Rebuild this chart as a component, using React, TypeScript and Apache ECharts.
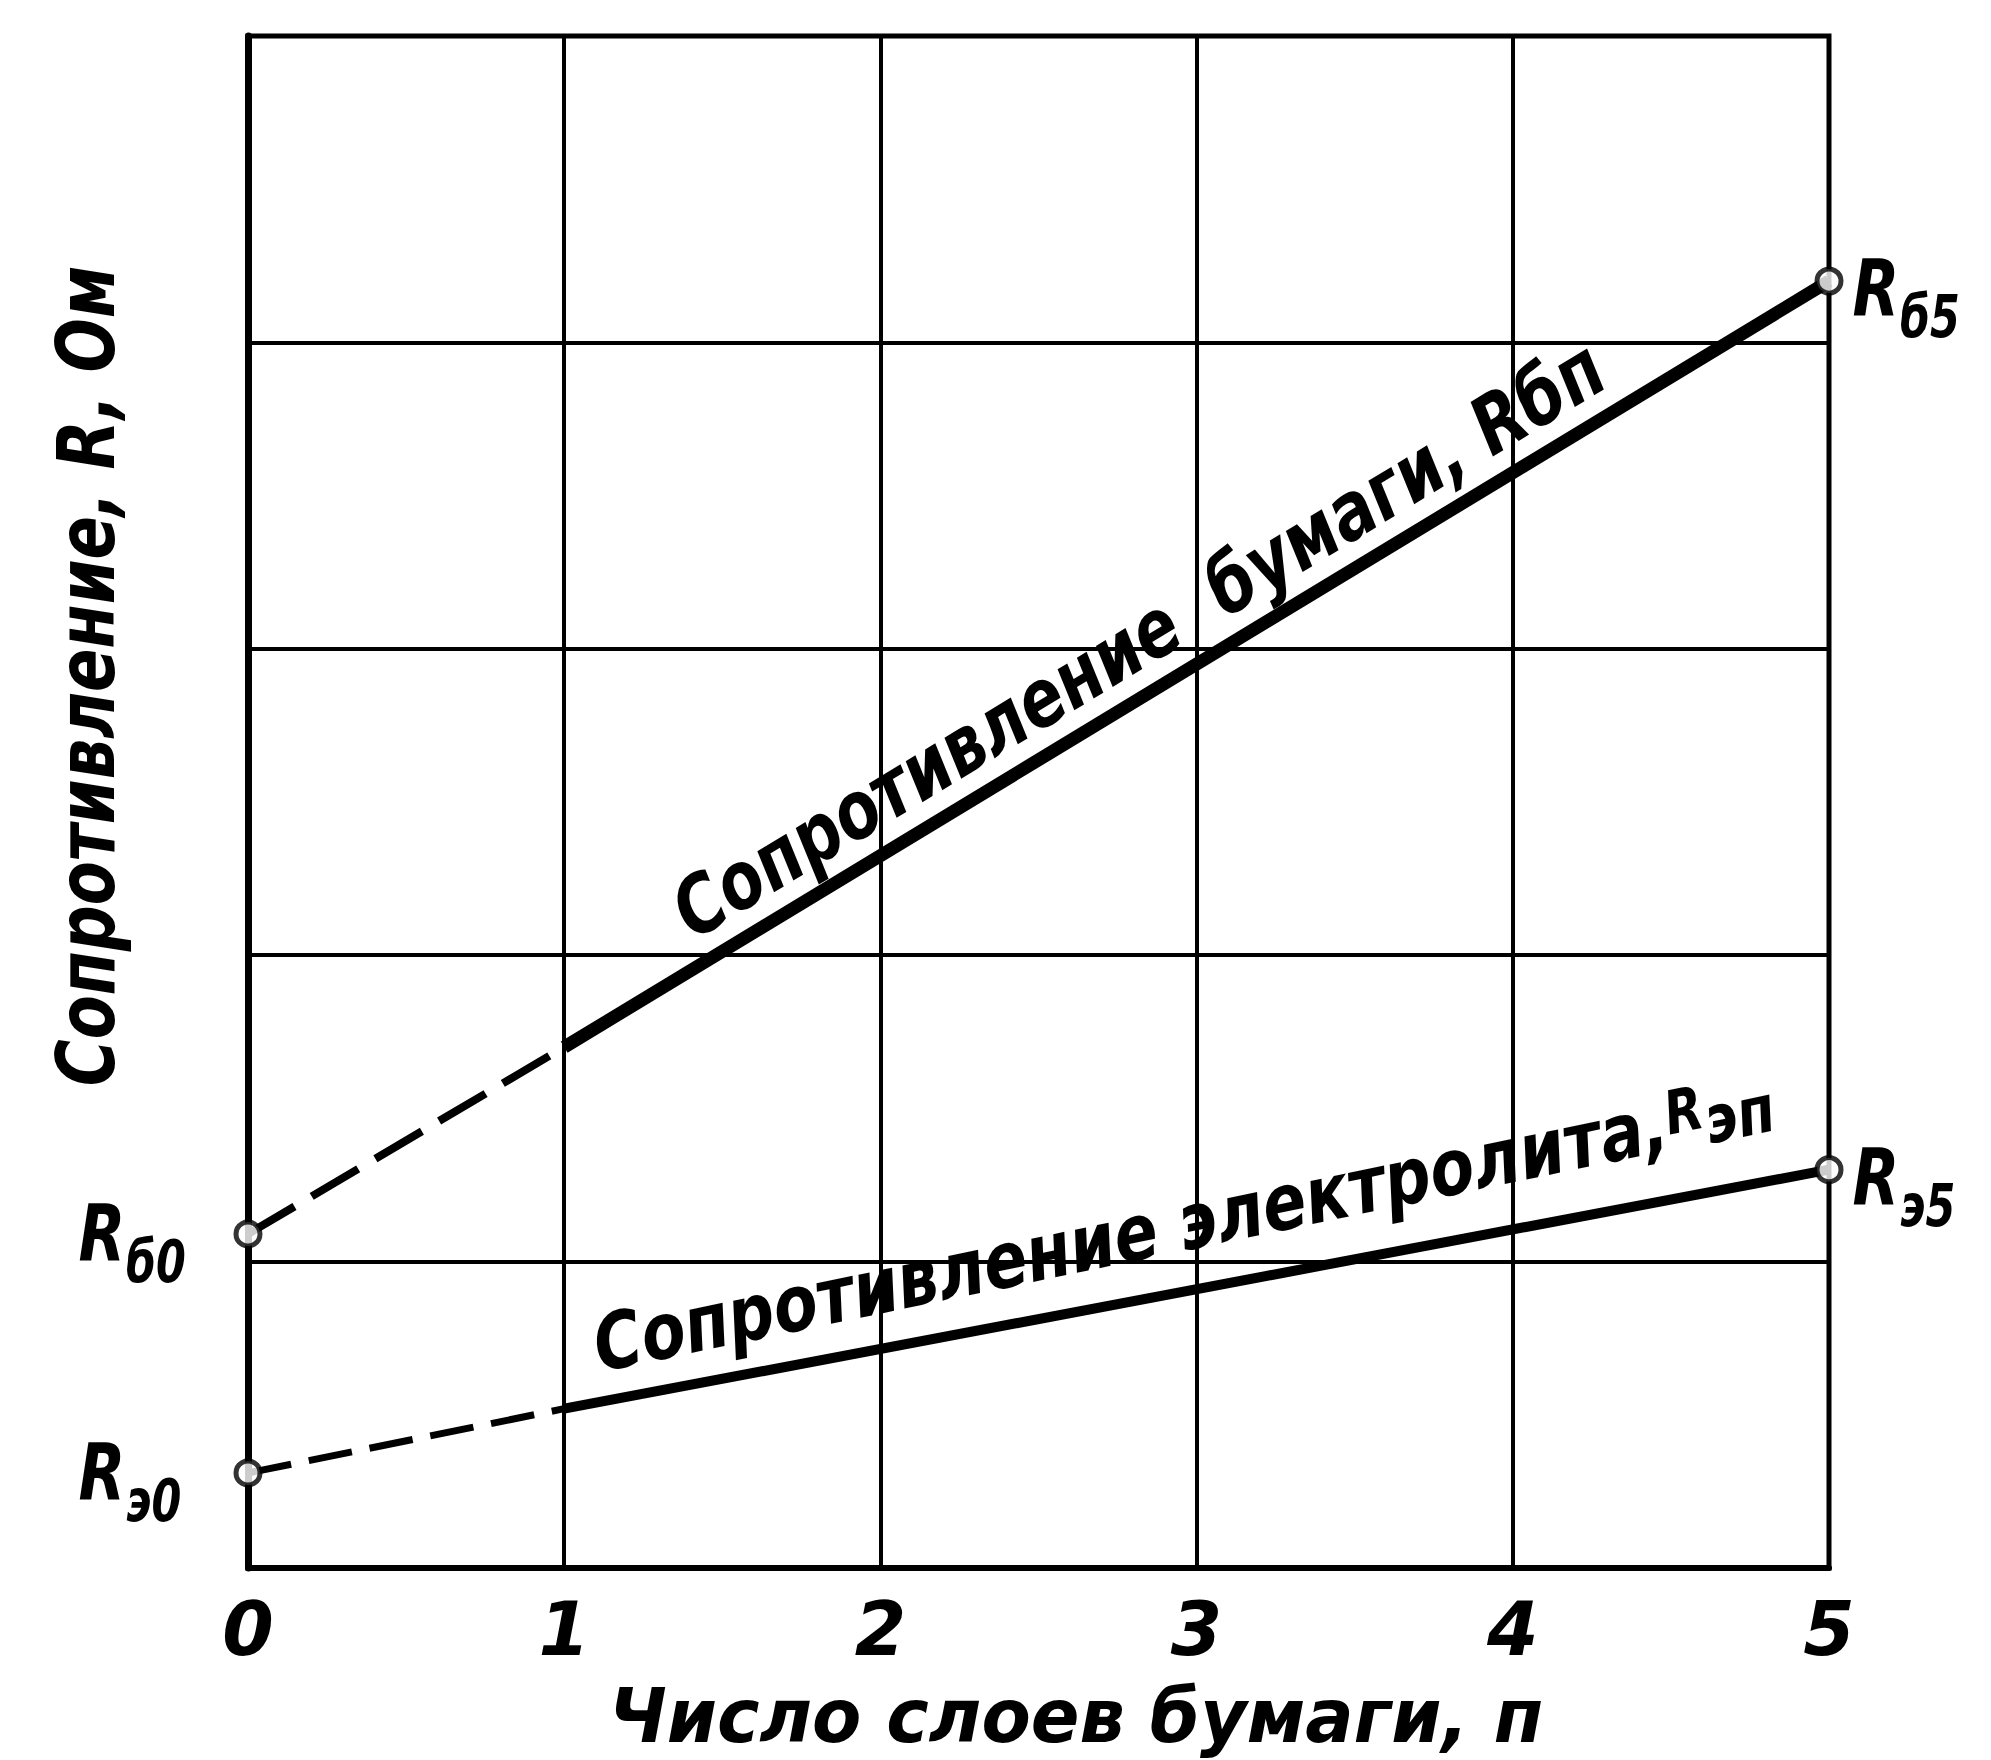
import React, { useEffect, useRef } from "react";
import * as echarts from "echarts";

// ---- data ----
const layerTicks = [0, 1, 2, 3, 4, 5];
const layerPoints = [0, 1, 5];
const paperResistance = [1.09, 1.7, 4.2];
const electrolyteResistance = [0.31, 0.52, 1.3];
const paperEndLabels = ["б0", "б5"];
const electrolyteEndLabels = ["э0", "э5"];
const xAxisTitle = "Число слоев бумаги, п";
const yAxisTitle = "Сопротивление, R, Ом";
const paperCaption = "Сопротивление  бумаги, Rбп";
const electrolyteCaptionMain = "Сопротивление электролита,";
const electrolyteCaptionSymbol = "R";
const electrolyteCaptionSub = "эп";

const FONT = "'DejaVu Sans', 'Liberation Sans', sans-serif";
const INK = "#000";

export default function App() {
  const ref = useRef<HTMLDivElement>(null);
  useEffect(() => {
    document.body.style.margin = "0";
    const el = ref.current!;
    const chart = echarts.init(el, null, { renderer: "svg" });

    const n0 = layerPoints[0];
    const nSplit = layerPoints[1];
    const nEnd = layerPoints[2];

    const option: any = {
      animation: false,
      backgroundColor: "#fff",
      grid: {
        left: 248,
        top: 36,
        width: 1581,
        height: 1532,
        show: true,
        borderColor: INK,
        borderWidth: 5,
        containLabel: false,
      },
      xAxis: {
        type: "value",
        min: layerTicks[0],
        max: layerTicks[layerTicks.length - 1],
        interval: 1,
        axisLine: { show: true, lineStyle: { color: INK, width: 6 } },
        axisTick: { show: false },
        splitLine: { show: true, lineStyle: { color: INK, width: 4 } },
        axisLabel: {
          fontSize: 74,
          lineHeight: 66,
          fontFamily: FONT,
          fontStyle: "italic",
          fontWeight: "bold",
          color: INK,
          margin: 28,
        },
      },
      yAxis: {
        type: "value",
        min: 0,
        max: 5,
        interval: 1,
        axisLine: { show: true, lineStyle: { color: INK, width: 7 } },
        axisTick: { show: false },
        axisLabel: { show: false },
        splitLine: { show: true, lineStyle: { color: INK, width: 4 } },
      },
      series: [
        {
          type: "line",
          data: [
            [n0, paperResistance[0]],
            [nSplit, paperResistance[1]],
          ],
          symbol: "none",
          lineStyle: { color: INK, width: 8, type: [54, 20], cap: "butt" },
          z: 5,
        },
        {
          type: "line",
          data: [
            [nSplit, paperResistance[1]],
            [nEnd, paperResistance[2]],
          ],
          symbol: "none",
          lineStyle: { color: INK, width: 13 },
          z: 5,
        },
        {
          type: "line",
          data: [
            [n0, electrolyteResistance[0]],
            [nSplit, electrolyteResistance[1]],
          ],
          symbol: "none",
          lineStyle: { color: INK, width: 7, type: [44, 18], cap: "butt" },
          z: 5,
        },
        {
          type: "line",
          data: [
            [nSplit, electrolyteResistance[1]],
            [nEnd, electrolyteResistance[2]],
          ],
          symbol: "none",
          lineStyle: { color: INK, width: 10 },
          z: 5,
        },
        {
          type: "scatter",
          symbol: "circle",
          symbolSize: 24,
          itemStyle: { color: "#fff", borderColor: INK, borderWidth: 5 },
          z: 10,
          data: [
            [n0, paperResistance[0]],
            [nEnd, paperResistance[2]],
            [n0, electrolyteResistance[0]],
            [nEnd, electrolyteResistance[2]],
          ],
        },
      ],
    };
    chart.setOption(option);

    const px = (x: number, y: number) => chart.convertToPixel({ gridIndex: 0 }, [x, y]) as number[];
    const along = (a: number[], b: number[], t: number, offset: number) => {
      const ang = Math.atan2(a[1] - b[1], b[0] - a[0]);
      const x = a[0] + (b[0] - a[0]) * t - Math.sin(ang) * offset;
      const y = a[1] + (b[1] - a[1]) * t - Math.cos(ang) * offset;
      return { x, y, rotation: ang };
    };

    const pA = px(nSplit, paperResistance[1]);
    const pB = px(nEnd, paperResistance[2]);
    const eA = px(nSplit, electrolyteResistance[1]);
    const eB = px(nEnd, electrolyteResistance[2]);
    const paperPos = along(pA, pB, (2.9 - nSplit) / (nEnd - nSplit), 12);
    const elPos = along(eA, eB, (3.0 - nSplit) / (nEnd - nSplit), 28);
    const textStyle = {
      fontFamily: FONT,
      fontStyle: "italic",
      fontWeight: "bold",
      fill: INK,
    };

    // end-point labels: R with a lowered subscript
    const endLabel = (x: number, y: number, sub: string, left: boolean) => {
      const p = px(x, y);
      const rx = left ? p[0] - 146 : p[0] + 47;
      const ry = left ? p[1] : p[1] + 8;
      return [
        {
          type: "text",
          x: rx,
          y: ry,
          scaleX: 0.78,
          style: { ...textStyle, text: "R", fontSize: 78, align: "center", verticalAlign: "middle" },
          z: 20,
        },
        {
          type: "text",
          x: rx + 24,
          y: ry + 28,
          scaleX: 0.74,
          style: { ...textStyle, text: sub, fontSize: 58, align: "left", verticalAlign: "middle" },
          z: 20,
        },
      ];
    };

    chart.setOption({
      graphic: [
        ...endLabel(n0, paperResistance[0], paperEndLabels[0], true),
        ...endLabel(nEnd, paperResistance[2], paperEndLabels[1], false),
        ...endLabel(n0, electrolyteResistance[0], electrolyteEndLabels[0], true),
        ...endLabel(nEnd, electrolyteResistance[2], electrolyteEndLabels[1], false),
        {
          type: "text",
          x: paperPos.x,
          y: paperPos.y,
          rotation: paperPos.rotation,
          scaleX: 0.81,
          style: { ...textStyle, text: paperCaption, fontSize: 80, align: "center", verticalAlign: "bottom" },
          z: 20,
        },
        {
          type: "text",
          x: elPos.x,
          y: elPos.y,
          rotation: elPos.rotation + 0.018,
          scaleX: 0.826,
          style: {
            ...textStyle,
            text: `{m|${electrolyteCaptionMain}}{r|${electrolyteCaptionSymbol}}{s|${electrolyteCaptionSub}}`,
            align: "center",
            verticalAlign: "bottom",
            rich: {
              m: { ...textStyle, fontSize: 78, verticalAlign: "bottom" },
              r: { ...textStyle, fontSize: 60, verticalAlign: "top" },
              s: { ...textStyle, fontSize: 66, verticalAlign: "bottom" },
            },
          },
          z: 20,
        },
        {
          type: "text",
          x: 1076,
          y: 1716,
          scaleX: 0.97,
          style: { ...textStyle, text: xAxisTitle, fontSize: 74, lineHeight: 70, align: "center", verticalAlign: "middle" },
        },
        {
          type: "text",
          x: 86,
          y: 676,
          rotation: Math.PI / 2,
          scaleX: 0.8,
          style: { ...textStyle, text: yAxisTitle, fontSize: 80, align: "center", verticalAlign: "middle" },
        },
      ],
    });

    return () => chart.dispose();
  }, []);
  return <div ref={ref} style={{ width: 1991, height: 1760 }} />;
}
